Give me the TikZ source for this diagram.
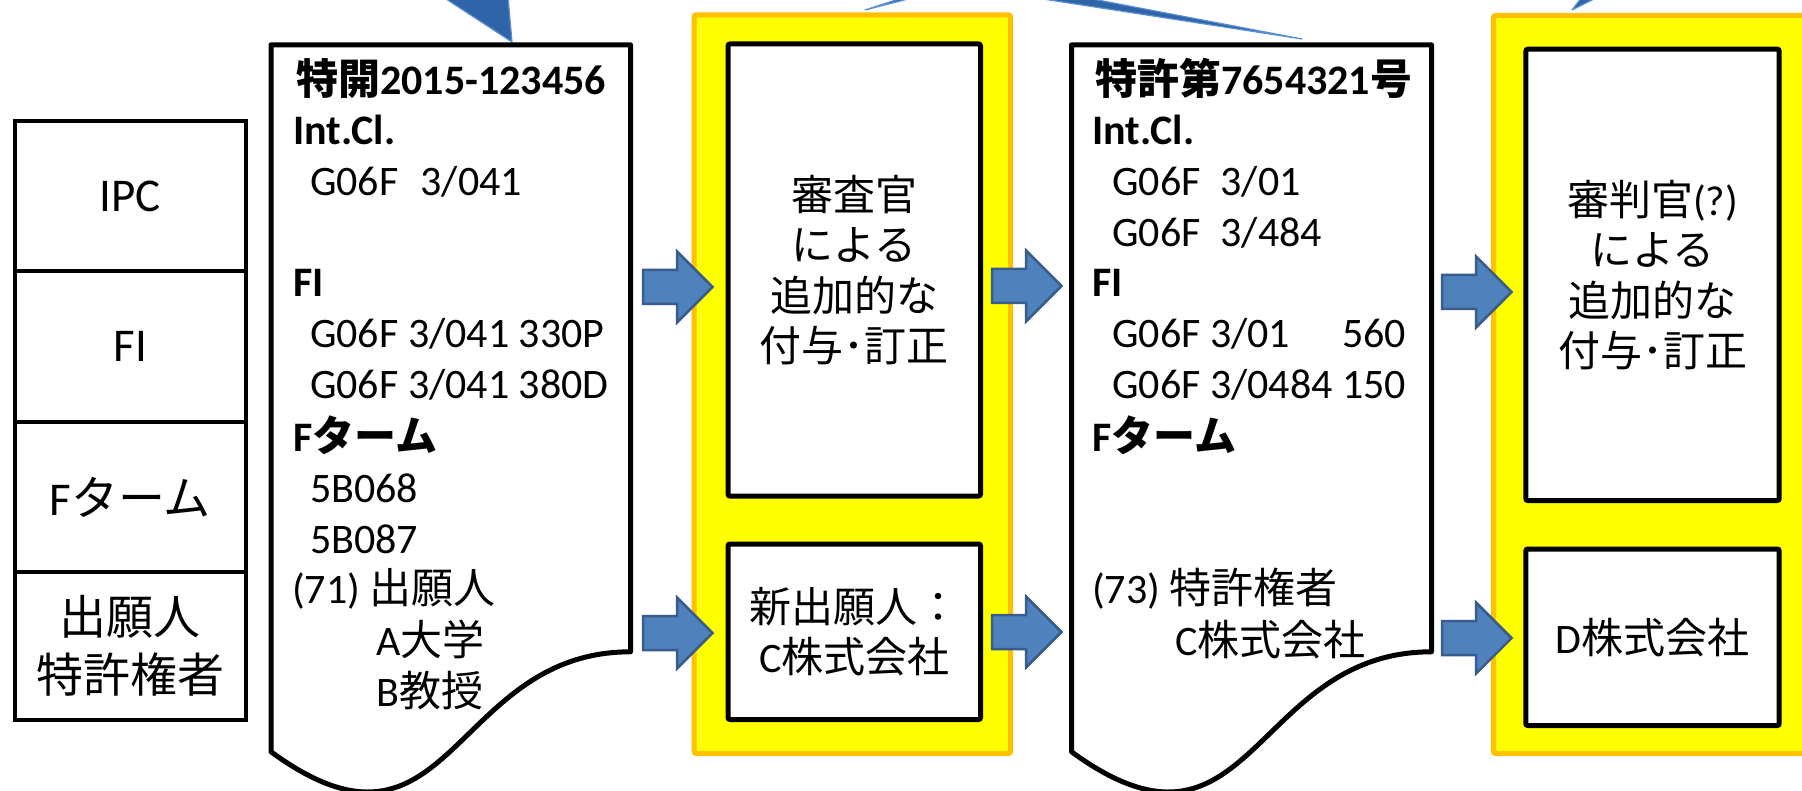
\documentclass[tikz,border=0pt]{standalone}
\usepackage{fontspec}
\setmainfont{Carlito}
\newfontfamily\jp{Noto Sans CJK JP}
\definecolor{ablue}{RGB}{79,129,189}
\definecolor{ablueline}{RGB}{56,93,138}
\definecolor{tblue}{RGB}{47,100,168}
\definecolor{tblueline}{RGB}{91,143,212}
\definecolor{ybox}{RGB}{255,255,0}
\definecolor{yline}{RGB}{255,192,0}
\tikzset{
 cell/.style={draw=black, line width=4.5pt, fill=white, inner sep=0pt, font=\fontsize{47}{58}\selectfont, align=center},
 inbox/.style={draw=black, line width=5pt, fill=white, rounded corners=2pt, inner sep=0pt, font=\fontsize{42}{50.5}\selectfont, align=center},
 ypanel/.style={draw=yline, fill=ybox, line width=5pt, rounded corners=2pt},
 docshape/.style={draw=black, line width=5pt, fill=white, line join=round},
 ln/.style={anchor=base west, inner sep=0pt, font=\fontsize{42}{50.6}\selectfont},
 blockarrow/.style={fill=ablue, draw=ablueline, line width=2.5pt, line join=miter},
 callout/.style={fill=tblue, draw=tblueline, line width=1.2pt, line join=round},
}
\newcommand\barrow[3]{\path[blockarrow] (#2,#3-17) coordinate (#1) -- (#2+34,#3-17) -- (#2+34,#3-35.5) -- (#2+69.5,#3) -- (#2+34,#3+35.5) -- (#2+34,#3+17) -- (#2,#3+17) -- cycle;}
\begin{document}
\begin{tikzpicture}[x=1pt,y=-1pt]
\useasboundingbox (0,0) rectangle (1802,791);
\clip (0,0) rectangle (1802,791);
\fill[white] (0,0) rectangle (1802,791);
% callout tails from above
\path[callout] (443,-3) -- (512,42) -- (508,-3) -- cycle;
\path[callout] (1030,-3) -- (1302,39) -- (1082,-3) -- cycle;
\path[callout] (865,10) -- (916,-3) -- (905,-3) -- cycle;
\path[callout] (1572,10) -- (1598,-3) -- (1582,-3) -- cycle;
% yellow panels
\path[ypanel] (694.2,14.8) rectangle (1010.5,753.5);
\path[ypanel] (1493.5,15.5) rectangle (1835,753.5);
% inner boxes
\node[inbox, minimum width=252.5pt, minimum height=452pt] (box1) at (854.25,270) {{\jp 審査官}\\{\jp による}\\{\jp 追加的な}\\{\jp 付与･訂正}};
\node[inbox, minimum width=252.5pt, minimum height=175.5pt] (box2) at (854.25,631.75) {{\jp 新出願人：}\\C{\jp 株式会社}};
\node[inbox, minimum width=253.4pt, minimum height=451.3pt] (box3) at (1652.5,274.85) {{\jp 審判官}(?)\\{\jp による}\\{\jp 追加的な}\\{\jp 付与･訂正}};
\node[inbox, minimum width=253.4pt, minimum height=176.5pt] (box4) at (1652.5,637.25) {D{\jp 株式会社}};
% documents
\path[docshape] (271,44.8) coordinate (doc1) -- (630.5,44.8) -- (630.5,651.8) .. controls (450.75,651.8) and (450.75,882.8) .. (271,751.8) -- cycle;
\path[docshape] (1071.5,44.8) coordinate (doc2) -- (1431.5,44.8) -- (1431.5,651.8) .. controls (1251.5,651.8) and (1251.5,882.8) .. (1071.5,751.8) -- cycle;
% doc 1 text
\node[ln] (d1a) at (296,95) {\bfseries{\jp 特開}2015-123456};
\node[ln] (d1b) at (293,144.5) {\bfseries Int.Cl.};
\node[ln] (d1c) at (310,195.5) {G06F\hspace{0.3em} 3/041};
\node[ln] (d1d) at (293,297) {\bfseries FI};
\node[ln] (d1e) at (310,348) {G06F 3/041 330P};
\node[ln] (d1f) at (310,398.5) {G06F 3/041 380D};
\node[ln] (d1g) at (293,451) {\bfseries F{\jp ターム}};
\node[ln] (d1h) at (310,502) {5B068};
\node[ln] (d1i) at (310,553) {5B087};
\node[ln] (d1j) at (292,603) {(71) {\jp 出願人}};
\node[ln] (d1k) at (376,655) {A{\jp 大学}};
\node[ln] (d1l) at (376,706) {B{\jp 教授}};
% doc 2 text
\node[ln] (d2a) at (1095,94.5) {\bfseries{\jp 特許第}7654321{\jp 号}};
\node[ln] (d2b) at (1092,144.5) {\bfseries Int.Cl.};
\node[ln] (d2c) at (1112,195.5) {G06F\hspace{0.25em} 3/01};
\node[ln] (d2d) at (1112,246.5) {G06F\hspace{0.25em} 3/484};
\node[ln] (d2e) at (1092,297) {\bfseries FI};
\node[ln] (d2f) at (1112,348) {G06F 3/01\hphantom{84} 560};
\node[ln] (d2g) at (1112,398.5) {G06F 3/0484 150};
\node[ln] (d2h) at (1092,451) {\bfseries F{\jp ターム}};
\node[ln] (d2i) at (1092,603) {(73) {\jp 特許権者}};
\node[ln] (d2j) at (1175,655) {C{\jp 株式会社}};
% left table
\node[cell, minimum width=231pt, minimum height=150pt] (ipc) at (130.3,196) {IPC};
\node[cell, minimum width=231pt, minimum height=151pt] (fi) at (130.3,346.5) {FI};
\node[cell, minimum width=231pt, minimum height=150pt] (fterm) at (130.3,497) {F{\jp ターム}};
\node[cell, minimum width=231pt, minimum height=148pt] (appl) at (130.3,646) {{\jp 出願人}\\{\jp 特許権者}};
% block arrows
\barrow{a1}{643}{287}
\barrow{a2}{643}{633}
\barrow{a3}{992}{286}
\barrow{a4}{992}{632}
\barrow{a5}{1442}{292}
\barrow{a6}{1442}{638}
\end{tikzpicture}
\end{document}
